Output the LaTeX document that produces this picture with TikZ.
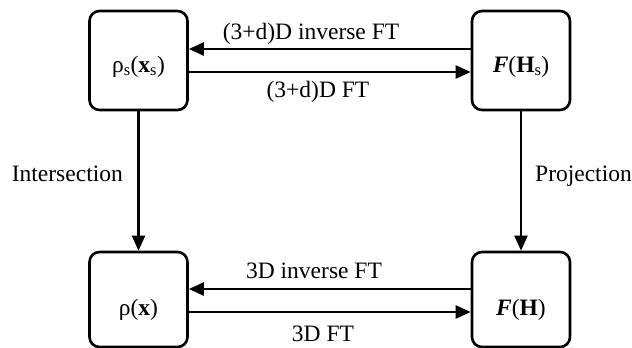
\documentclass[tikz,border=0pt]{standalone}
\usepackage{fontspec}
\setmainfont{Liberation Serif}
\usetikzlibrary{arrows.meta}
\tikzset{
  txt/.style={font=\fontsize{23.5}{28}\selectfont, inner sep=0pt},
  box/.style={txt, draw, line width=2.6pt, rounded corners=10pt, minimum width=98pt, text depth=0pt},
  toprow/.style={box, minimum height=99pt, text height=23pt},
  botrow/.style={box, minimum height=95pt, text height=32pt},
  conn/.style={line width=2.2pt, -{Triangle[length=15pt,width=13pt]}},
  lab/.style={txt, anchor=base}
}
\begin{document}
\begin{tikzpicture}[x=1pt,y=-1pt]
\useasboundingbox (0,0) rectangle (632,348);
\node[toprow] (rs) at (138.5,60.5) {ρ\textsubscript{s}(\textbf{x}\textsubscript{s})};
\node[toprow] (fh) at (521,60.5) {\textbf{\textit{F}}(\textbf{H}\textsubscript{s})};
\node[botrow] (rx) at (138.5,299.5) {ρ(\textbf{x})};
\node[botrow] (fb) at (521,299.5) {\textbf{\textit{F}}(\textbf{H})};
\draw[conn] ([yshift=11.5pt]fh.west) -- ([yshift=11.5pt]rs.east);
\draw[conn] ([yshift=-11.5pt]rs.east) -- ([yshift=-11.5pt]fh.west);
\draw[conn] ([yshift=10.5pt]fb.west) -- ([yshift=10.5pt]rx.east);
\draw[conn] ([yshift=-12.5pt]rx.east) -- ([yshift=-12.5pt]fb.west);
\draw[conn] (rs.south) -- (rx.north);
\draw[conn] (fh.south) -- (fb.north);
\node[lab] (l1) at (311,39) {(3+d)D inverse FT};
\node[lab] (l2) at (318,97) {(3+d)D FT};
\node[lab] (l3) at (314,278) {3D inverse FT};
\node[lab] (l4) at (323,341) {3D FT};
\node[txt, anchor=base east] (li) at (123,181) {Intersection};
\node[txt, anchor=base west] (lp) at (535,181) {Projection};
\end{tikzpicture}
\end{document}
